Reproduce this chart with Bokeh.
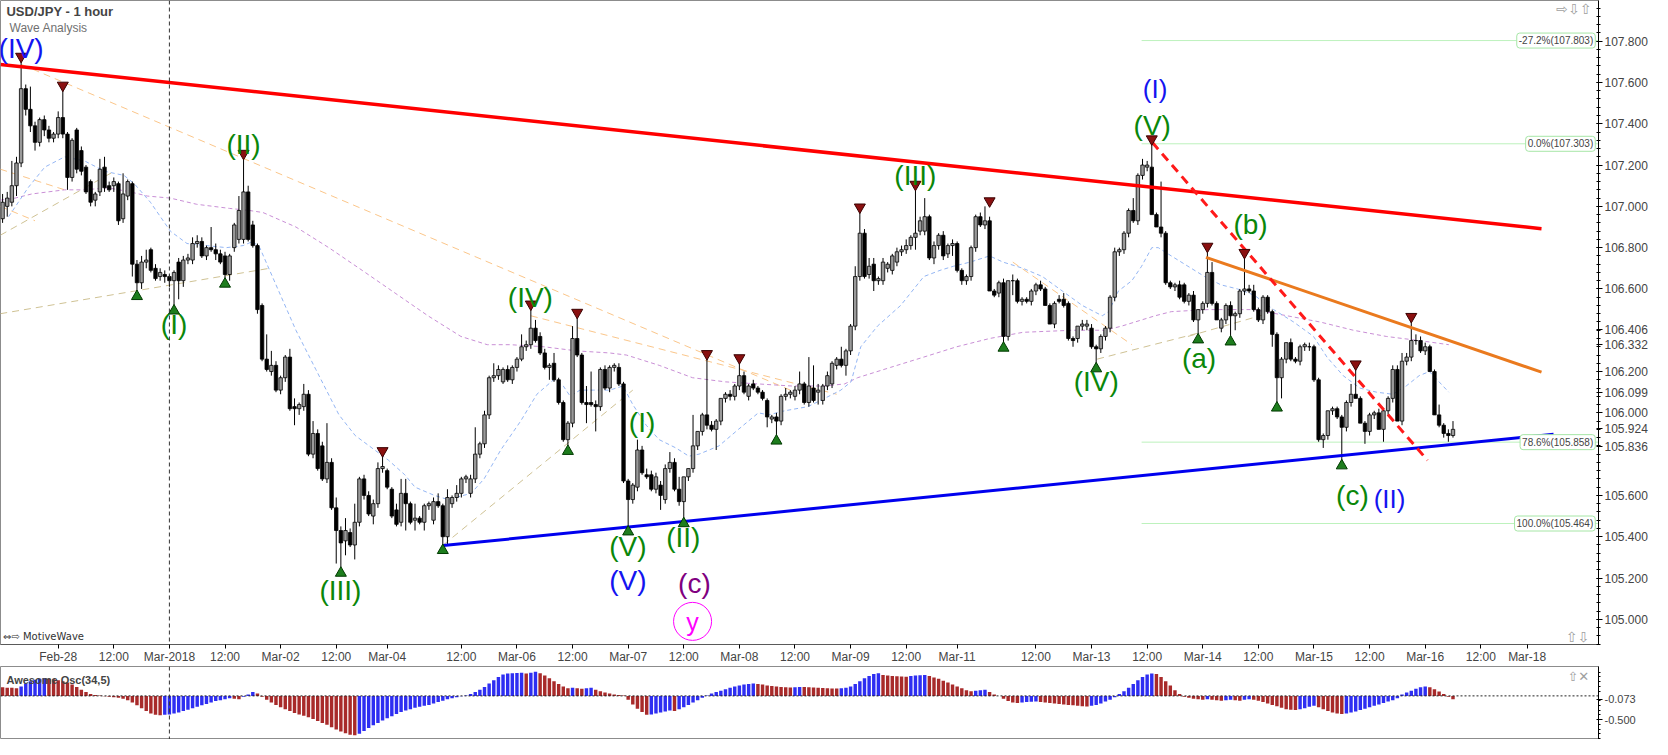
from bokeh.plotting import figure
from bokeh.models import (ColumnDataSource, Range1d, FixedTicker, Span, Label,
                          PrintfTickFormatter)
from bokeh.layouts import column
from bokeh.embed import file_html
from bokeh.resources import INLINE
from bokeh.core.properties import value

# ---------------- hourly candles (bar index 0 = Feb-27 12:00) ----------------
opens = [
106.94,107.00,107.02,107.10,107.21,107.57,107.47,107.39,107.31,107.42,
107.37,107.33,107.35,107.43,107.35,107.14,107.37,107.27,107.19,107.12,
107.03,107.07,107.19,107.10,107.10,107.11,106.94,107.05,107.11,106.72,
106.63,106.73,106.79,106.70,106.66,106.67,106.66,106.64,106.73,106.64,
106.74,106.74,106.82,106.83,106.76,106.80,106.79,106.77,106.76,106.67,
106.80,106.84,106.84,107.07,106.91,106.81,106.52,106.26,106.20,106.23,
106.11,106.17,106.27,106.03,106.02,106.03,106.09,105.80,105.90,105.84,
105.68,105.76,105.54,105.43,105.38,105.42,105.36,105.47,105.68,105.60,
105.50,105.56,105.73,105.72,105.63,105.53,105.47,105.61,105.56,105.48,
105.49,105.47,105.55,105.48,105.57,105.55,105.40,105.56,105.59,105.61,
105.68,105.61,105.68,105.80,105.85,105.99,106.17,106.18,106.15,106.21,
106.16,106.22,106.26,106.32,106.33,106.41,106.37,106.29,106.22,106.24,
106.16,106.05,105.87,105.95,106.36,106.28,106.05,106.05,106.04,106.03,
106.21,106.12,106.22,106.22,106.14,105.67,105.58,105.64,105.82,105.70,
105.70,105.63,105.65,105.58,105.73,105.76,105.63,105.57,105.69,105.73,
105.84,105.91,105.99,105.94,105.92,105.96,106.07,106.09,106.08,106.13,
106.18,106.08,106.14,106.12,106.10,106.06,105.97,105.98,105.96,106.08,
106.09,106.08,106.11,106.14,106.05,106.12,106.10,106.06,106.13,106.14,
106.23,106.26,106.23,106.30,106.42,106.66,106.87,106.67,106.72,106.64,
106.64,106.70,106.69,106.73,106.78,106.79,106.81,106.85,106.88,106.88,
106.95,106.75,106.81,106.86,106.77,106.81,106.82,106.69,106.64,106.66,
106.80,106.95,106.91,106.93,106.59,106.58,106.63,106.37,106.64,106.64,
106.54,106.55,106.54,106.59,106.62,106.60,106.52,106.43,106.55,106.55,
106.53,106.36,106.36,106.42,106.42,106.41,106.32,106.31,106.37,106.41,
106.56,106.78,106.79,106.87,106.98,106.93,107.15,107.19,107.19,106.96,
106.90,106.87,106.63,106.61,106.62,106.62,106.54,106.57,106.45,106.50,
106.53,106.68,106.53,106.41,106.45,106.52,106.47,106.48,106.59,106.60,
106.59,106.50,106.45,106.56,106.49,106.38,106.17,106.26,106.34,106.26,
106.25,106.32,106.32,106.32,106.16,105.87,105.89,106.01,106.02,105.98,
105.93,106.05,106.09,106.07,105.95,105.91,105.99,106.00,105.92,106.01,
106.07,106.21,105.96,106.25,106.27,106.35,106.35,106.30,106.32,106.20,
105.99,105.94,105.90,105.89]

highs = [
107.06,107.07,107.22,107.24,107.70,107.59,107.58,107.41,107.43,107.44,
107.39,107.36,107.46,107.56,107.36,107.33,107.38,107.29,107.20,107.13,
107.07,107.23,107.24,107.12,107.14,107.12,107.16,107.13,107.12,106.74,
106.76,106.79,106.80,106.72,106.70,106.69,106.67,106.69,106.75,106.76,
106.77,106.85,106.86,106.85,106.81,106.90,106.82,106.79,106.78,106.77,
106.92,107.05,107.23,107.10,106.93,106.82,106.53,106.38,106.30,106.25,
106.18,106.28,106.31,106.07,106.05,106.14,106.11,105.96,105.92,105.86,
105.95,105.78,105.59,105.45,105.49,105.44,105.56,105.69,105.70,105.62,
105.58,105.76,105.79,105.73,105.64,105.56,105.68,105.68,105.57,105.56,
105.50,105.56,105.57,105.59,105.61,105.56,105.63,105.60,105.65,105.69,
105.70,105.70,105.93,105.86,106.01,106.18,106.24,106.23,106.22,106.23,
106.23,106.27,106.38,106.35,106.50,106.45,106.39,106.31,106.24,106.29,
106.17,106.06,105.96,106.42,106.46,106.29,106.13,106.20,106.06,106.22,
106.23,106.23,106.24,106.24,106.15,105.68,105.66,105.87,105.84,105.73,
105.72,105.71,105.67,105.75,105.81,105.78,105.69,105.69,105.73,105.99,
105.91,106.00,106.26,105.96,105.97,106.07,106.10,106.11,106.14,106.24,
106.20,106.14,106.16,106.13,106.11,106.07,105.99,106.00,106.09,106.12,
106.11,106.13,106.20,106.15,106.27,106.23,106.14,106.14,106.20,106.25,
106.27,106.32,106.31,106.43,106.71,106.97,106.89,106.75,106.75,106.66,
106.75,106.73,106.77,106.80,106.81,106.84,106.86,107.08,106.95,107.04,
106.96,106.83,106.87,106.88,106.82,106.84,106.83,106.70,106.67,106.81,
106.96,106.97,107.00,106.95,106.60,106.64,106.65,106.64,106.67,106.65,
106.56,106.56,106.60,106.63,106.64,106.61,106.53,106.54,106.57,106.58,
106.54,106.37,106.42,106.45,106.45,106.43,106.33,106.38,106.42,106.57,
106.80,106.80,106.88,106.99,107.04,107.16,107.23,107.22,107.30,106.97,
107.12,106.88,106.64,106.63,106.64,106.63,106.58,106.59,106.50,106.54,
106.78,106.73,106.54,106.46,106.53,106.54,106.49,106.60,106.75,106.62,
106.62,106.51,106.57,106.57,106.50,106.39,106.27,106.34,106.36,106.27,
106.33,106.34,106.34,106.33,106.17,105.90,106.01,106.03,106.03,105.99,
106.06,106.14,106.21,106.08,105.96,106.00,106.01,106.02,106.02,106.08,
106.23,106.23,106.29,106.29,106.44,106.38,106.37,106.34,106.33,106.21,
106.04,105.95,105.92,105.96]

lows = [
106.92,106.95,107.00,107.05,107.19,107.44,107.36,107.27,107.29,107.34,
107.31,107.31,107.33,107.33,107.08,107.12,107.16,107.15,107.06,107.00,
107.00,107.05,107.07,107.07,107.07,106.91,106.92,107.03,106.66,106.59,
106.60,106.70,106.68,106.64,106.64,106.63,106.61,106.52,106.55,106.61,
106.72,106.72,106.80,106.75,106.74,106.78,106.74,106.72,106.65,106.64,
106.78,106.82,106.82,106.83,106.80,106.48,106.25,106.20,106.18,106.10,
106.09,106.15,106.01,105.94,105.99,106.01,105.79,105.78,105.72,105.67,
105.66,105.53,105.27,105.25,105.31,105.35,105.29,105.45,105.58,105.50,
105.46,105.54,105.71,105.63,105.49,105.45,105.45,105.43,105.46,105.43,
105.46,105.43,105.53,105.46,105.54,105.36,105.36,105.54,105.57,105.59,
105.66,105.59,105.66,105.78,105.83,105.97,106.15,106.16,106.14,106.15,
106.14,106.20,106.25,106.30,106.31,106.34,106.28,106.21,106.16,106.15,
106.04,105.86,105.84,105.93,106.27,106.04,105.95,106.03,105.91,106.01,
106.11,106.10,106.20,106.13,105.66,105.45,105.56,105.62,105.70,105.68,
105.62,105.61,105.53,105.56,105.71,105.62,105.55,105.49,105.67,105.71,
105.82,105.89,105.92,105.91,105.82,105.94,106.05,106.06,106.06,106.11,
106.09,106.06,106.11,106.09,106.06,105.93,105.95,105.89,105.94,106.06,
106.07,106.06,106.09,106.04,106.03,106.05,106.04,106.04,106.11,106.12,
106.21,106.22,106.18,106.28,106.40,106.64,106.65,106.65,106.59,106.62,
106.62,106.68,106.67,106.71,106.76,106.77,106.79,106.79,106.86,106.86,
106.74,106.72,106.79,106.74,106.75,106.76,106.68,106.62,106.62,106.64,
106.78,106.90,106.89,106.59,106.56,106.56,106.34,106.35,106.57,106.53,
106.52,106.53,106.52,106.57,106.59,106.52,106.43,106.41,106.53,106.51,
106.35,106.32,106.34,106.40,106.40,106.31,106.24,106.29,106.35,106.39,
106.54,106.76,106.77,106.85,106.92,106.91,107.13,107.17,106.96,106.90,
106.85,106.62,106.60,106.59,106.55,106.53,106.52,106.44,106.38,106.48,
106.51,106.52,106.45,106.39,106.43,106.37,106.40,106.46,106.57,106.58,
106.49,106.44,106.43,106.48,106.32,106.05,106.07,106.24,106.25,106.24,
106.23,106.30,106.30,106.15,105.86,105.83,105.87,105.99,105.97,105.77,
105.91,106.03,106.07,105.95,105.85,105.89,105.97,105.92,105.86,105.99,
106.05,105.96,105.94,106.23,106.25,106.33,106.29,106.28,106.20,105.99,
105.93,105.88,105.86,105.88]

closes = [
107.02,107.04,107.10,107.21,107.57,107.47,107.39,107.31,107.42,107.37,
107.33,107.35,107.43,107.35,107.14,107.32,107.18,107.17,107.07,107.02,
107.06,107.18,107.09,107.08,107.12,106.93,107.06,107.12,106.72,106.63,
106.73,106.74,106.69,106.65,106.68,106.66,106.64,106.68,106.64,106.74,
106.75,106.82,106.83,106.76,106.80,106.79,106.77,106.73,106.67,106.76,
106.91,106.98,107.07,106.84,106.81,106.50,106.26,106.21,106.23,106.11,
106.17,106.27,106.02,106.02,106.04,106.09,105.80,105.90,105.73,105.68,
105.76,105.54,105.43,105.37,105.43,105.36,105.47,105.68,105.60,105.51,
105.56,105.73,105.74,105.64,105.50,105.46,105.61,105.56,105.47,105.49,
105.47,105.55,105.56,105.57,105.55,105.40,105.59,105.59,105.61,105.68,
105.69,105.68,105.80,105.85,105.99,106.17,106.18,106.21,106.21,106.16,
106.22,106.26,106.32,106.33,106.41,106.35,106.29,106.22,106.23,106.16,
106.05,105.87,105.95,106.36,106.28,106.05,106.04,106.04,106.03,106.21,
106.12,106.22,106.23,106.14,105.67,105.58,105.65,105.82,105.71,105.69,
105.63,105.69,105.60,105.73,105.76,105.63,105.57,105.69,105.73,105.84,
105.91,105.99,105.94,105.92,105.96,106.07,106.09,106.08,106.13,106.18,
106.10,106.13,106.12,106.10,106.07,105.98,105.98,105.96,106.08,106.09,
106.10,106.11,106.14,106.05,106.13,106.06,106.11,106.13,106.18,106.24,
106.26,106.23,106.30,106.42,106.66,106.87,106.66,106.71,106.64,106.65,
106.73,106.72,106.76,106.78,106.79,106.81,106.85,106.87,106.93,106.95,
106.75,106.81,106.86,106.76,106.81,106.82,106.69,106.64,106.66,106.80,
106.95,106.91,106.93,106.59,106.57,106.63,106.37,106.64,106.64,106.54,
106.55,106.54,106.59,106.62,106.60,106.52,106.43,106.53,106.54,106.52,
106.36,106.35,106.42,106.43,106.43,106.32,106.31,106.37,106.41,106.56,
106.78,106.79,106.87,106.98,106.93,107.15,107.20,107.20,106.96,106.90,
106.87,106.63,106.61,106.62,106.56,106.54,106.57,106.45,106.50,106.53,
106.68,106.53,106.45,106.45,106.52,106.47,106.48,106.59,106.60,106.59,
106.50,106.45,106.56,106.49,106.38,106.17,106.26,106.34,106.26,106.25,
106.32,106.33,106.32,106.16,105.87,105.89,106.01,106.02,105.98,105.93,
106.05,106.09,106.07,105.95,105.91,105.99,106.00,105.92,106.01,106.07,
106.21,105.96,106.25,106.27,106.35,106.35,106.30,106.32,106.20,105.99,
105.94,105.90,105.89,105.92]

# Awesome Oscillator (34,5) per bar
ao = [
0.18,0.17,0.17,0.16,0.20,0.26,0.31,0.34,0.36,0.37,
0.36,0.35,0.33,0.31,0.28,0.24,0.19,0.13,0.08,0.04,
0.02,0.01,-0.01,-0.02,-0.03,-0.04,-0.06,-0.09,-0.14,-0.20,
-0.26,-0.32,-0.37,-0.40,-0.41,-0.40,-0.39,-0.37,-0.35,-0.32,
-0.29,-0.26,-0.23,-0.20,-0.17,-0.14,-0.11,-0.09,-0.07,-0.05,
-0.06,-0.07,-0.02,0.03,0.08,0.05,-0.02,-0.08,-0.14,-0.19,
-0.24,-0.28,-0.32,-0.36,-0.39,-0.42,-0.45,-0.49,-0.53,-0.57,
-0.61,-0.66,-0.71,-0.75,-0.79,-0.82,-0.83,-0.80,-0.74,-0.68,
-0.62,-0.57,-0.52,-0.47,-0.43,-0.38,-0.34,-0.31,-0.28,-0.25,
-0.23,-0.21,-0.19,-0.16,-0.13,-0.10,-0.07,-0.05,-0.03,-0.01,
0.01,0.04,0.08,0.13,0.19,0.26,0.33,0.40,0.45,0.47,
0.48,0.485,0.49,0.47,0.49,0.51,0.48,0.43,0.37,0.31,
0.25,0.20,0.16,0.17,0.16,0.15,0.16,0.17,0.13,0.10,
0.07,0.05,0.03,0.02,0.01,-0.08,-0.18,-0.27,-0.34,-0.40,
-0.39,-0.37,-0.35,-0.33,-0.31,-0.32,-0.28,-0.24,-0.19,-0.14,
-0.09,-0.04,0.01,0.05,0.08,0.11,0.14,0.17,0.20,0.22,
0.24,0.25,0.26,0.25,0.24,0.22,0.21,0.20,0.19,0.18,
0.175,0.18,0.19,0.185,0.18,0.175,0.17,0.165,0.16,0.158,
0.155,0.16,0.17,0.20,0.25,0.31,0.37,0.42,0.46,0.48,
0.44,0.43,0.42,0.415,0.41,0.405,0.42,0.43,0.435,0.44,
0.42,0.39,0.36,0.32,0.28,0.24,0.20,0.16,0.12,0.10,
0.11,0.12,0.13,0.08,0.03,0.00,-0.06,-0.11,-0.14,-0.15,
-0.14,-0.13,-0.125,-0.12,-0.13,-0.14,-0.15,-0.16,-0.17,-0.18,
-0.19,-0.20,-0.21,-0.22,-0.225,-0.21,-0.19,-0.16,-0.12,-0.08,
-0.03,0.04,0.10,0.17,0.25,0.33,0.40,0.45,0.47,0.46,
0.40,0.31,0.22,0.12,0.04,-0.02,-0.04,-0.06,-0.07,-0.08,
-0.07,-0.08,-0.09,-0.10,-0.09,-0.08,-0.09,-0.10,-0.08,-0.07,
-0.08,-0.10,-0.13,-0.16,-0.19,-0.22,-0.25,-0.28,-0.29,-0.30,
-0.28,-0.26,-0.23,-0.21,-0.24,-0.28,-0.32,-0.35,-0.37,-0.38,
-0.37,-0.35,-0.33,-0.30,-0.27,-0.24,-0.21,-0.18,-0.15,-0.12,
-0.09,-0.05,0.03,0.07,0.11,0.15,0.18,0.20,0.18,0.14,
0.09,0.04,-0.02,-0.073]

# moving averages (bar index, price)
ma_fast = [(1.3,106.95),(5.5,107.09),(9.1,107.19),(13.4,107.24),(17.7,107.22),(22,107.17),
    (26.2,107.15),(28.4,107.11),(31.9,107.02),(36.2,106.88),(39.8,106.82),(44,106.81),
    (48.3,106.80),(51.9,106.81),(54,106.83),(55.5,106.80),(59,106.62),(63.3,106.40),
    (67.6,106.21),(72.6,105.99),(76.1,105.89),(79.7,105.83),(83.3,105.77),(86.8,105.70),
    (89,105.64),(93.2,105.60),(96.1,105.58),(101.1,105.61),(103.9,105.68),(107.5,105.82),
    (111.8,105.96),(115.3,106.09),(118.9,106.16),(121.0,106.13),(122.5,106.08),(124.6,106.11),
    (127.5,106.11),(131.0,106.11),(133.9,106.13),(136,106.04),(138.9,105.94),(141.7,105.87),
    (145.3,105.83),(148.1,105.79),(150.3,105.80),(154.6,105.84),(158.8,105.92),(163.1,106.00),
    (165.3,105.99),(168.8,106.01),(173.8,106.03),(177.4,106.07),(180.9,106.11),(183.1,106.15),
    (185.2,106.32),(188.8,106.42),(193.8,106.52),(198.8,106.66),(202.3,106.69),(205.2,106.71),
    (208.8,106.73),(213.0,106.76),(215.9,106.73),(220.2,106.70),(224.4,106.66),(228.7,106.59),
    (233,106.52),(237.3,106.47),(238.7,106.49),(240.8,106.59),(243.7,106.64),(245.8,106.71),
    (248,106.80),(249.4,106.80),(252.2,106.76),(255.8,106.71),(259.4,106.66),(262.9,106.62),
    (266.5,106.60),(270.1,106.57),(274.3,106.50),(278.6,106.44),(282.9,106.37),(285.8,106.27),
    (289.3,106.18),(292.9,106.12),(296.5,106.10),(300,106.09),(302.9,106.13),(305.7,106.18),
    (307.9,106.20),(310,106.15),(312.1,106.10)]
ma_slow = [(-0.5,107.03),(2.7,107.04),(6.3,107.06),(9.8,107.07),(13.4,107.08),(17.7,107.08),
    (22.7,107.09),(27.6,107.07),(31.2,107.05),(36.2,107.04),(41.9,107.01),(49.0,106.99),
    (53.3,106.98),(56.2,106.97),(63.3,106.90),(70.4,106.80),(77.6,106.69),(84.7,106.58),
    (91.8,106.47),(98.9,106.37),(104.6,106.33),(109.6,106.33),(116.8,106.32),(123.9,106.30),
    (131,106.29),(134.6,106.28),(141.7,106.23),(148.9,106.17),(156,106.15),(163.1,106.14),
    (170.2,106.13),(177.4,106.13),(181.7,106.14),(184.5,106.17),(191.6,106.22),(198.8,106.27),
    (205.9,106.32),(213.0,106.36),(220.2,106.39),(230.9,106.40),(238,106.40),(241.5,106.42),
    (248.7,106.47),(252.2,106.49),(260.1,106.50),(270.1,106.50),(277.2,106.47),(284.3,106.44),
    (291.5,106.40),(298.6,106.37),(305.7,106.35),(312.1,106.33)]

# swing markers
tops_x = [4, 13, 52, 82, 114, 124, 152, 159, 185, 197, 213, 248, 260, 268, 292, 304]
tops_y = [107.70, 107.56, 107.23, 105.79, 106.50, 106.46, 106.26, 106.24, 106.97, 107.08,
          107.00, 107.30, 106.78, 106.75, 106.21, 106.44]
bots_x = [29, 37, 48, 73, 95, 122, 135, 147, 167, 216, 236, 258, 265, 275, 289]
bots_y = [106.59, 106.52, 106.65, 105.25, 105.36, 105.84, 105.45, 105.49, 105.89, 106.34,
          106.24, 106.38, 106.37, 106.05, 105.77]

# wave labels
wave_text = ["(IV)", "(II)", "(I)", "(III)", "(IV)", "(I)", "(V)", "(II)", "(V)", "(c)", "y",
             "(III)", "(IV)", "(V)", "(I)", "(a)", "(b)", "(c)", "(II)"]
wave_x = [4.0, 52.0, 37.0, 72.9, 113.9, 138.0, 134.95, 146.9, 134.95, 149.3, 148.9,
          196.97, 236.0, 248.1, 248.7, 258.2, 269.3, 291.3, 299.3]
wave_y = [107.766, 107.301, 106.428, 105.138, 106.560, 105.951, 105.352, 105.395, 105.186,
          105.172, 104.985, 107.150, 106.150, 107.390, 107.567, 106.265, 106.913, 105.599, 105.584]
wave_kind = ["B", "G", "G", "G", "G", "G", "G", "G", "B", "P", "M",
             "G", "G", "G", "B", "G", "G", "G", "B"]

# trend lines (x0, y0, x1, y1)
red_line = (-0.45, 107.687, 332.1, 106.892)
blue_line = (95.1, 105.357, 334.7, 105.896)
orange_line = (259.7, 106.753, 332.1, 106.197)
red_dash_line = (248.1, 107.31, 307.5, 105.77)
thin_orange = [(4.1, 107.687, 170.0, 106.11), (114.0, 106.47, 180.0, 106.09),
               (218.0, 106.73, 243.7, 106.33), (-0.5, 107.18, 13.4, 107.08),
               (-0.5, 107.00, 7.0, 106.93)]
thin_olive = [(-0.5, 106.48, 57.6, 106.70), (-0.5, 106.86, 24.1, 107.17),
              (95.1, 105.36, 136.0, 106.11), (236.2, 106.26, 258.7, 106.39),
              (255.8, 106.37, 272.9, 106.48)]

# Fibonacci levels
fib_levels = [107.803, 107.303, 105.858, 105.464]
fib_labels = ["-27.2%(107.803)", "0.0%(107.303)", "78.6%(105.858)", "100.0%(105.464)"]
fib_start = 245.8

# price values marked on the axis
axis_marks = [106.406, 106.332, 106.099, 105.924, 105.836]

# time axis
xtick_pos = [12, 24, 36, 48, 60, 72, 83, 99, 111, 123, 135, 147, 159, 171, 183, 195, 206,
             223, 235, 247, 259, 271, 283, 295, 307, 319, 329]
xtick_lbl = ["Feb-28", "12:00", "Mar-2018", "12:00", "Mar-02", "12:00", "Mar-04", "12:00",
             "Mar-06", "12:00", "Mar-07", "12:00", "Mar-08", "12:00", "Mar-09", "12:00",
             "Mar-11", "12:00", "Mar-13", "12:00", "Mar-14", "12:00", "Mar-15", "12:00",
             "Mar-16", "12:00", "Mar-18"]
month_start = 36
ytick_pos = [105.0, 105.2, 105.4, 105.6, 106.0, 106.2, 106.6, 106.8, 107.0,
             107.2, 107.4, 107.6, 107.8]

# ---------------------------------------------------------------------------
FONT = "Liberation Sans"
X0, X1 = -0.45, 344.4
Y0, Y1 = 104.878, 107.997
W = 1652
RB = 54
GREEN, BLUE, PURPLE, MAGENTA = "#0a870a", "#1414f0", "#800080", "#ff00ff"
kind_color = {"G": GREEN, "B": BLUE, "P": PURPLE, "M": MAGENTA}

n = len(closes)
idx = list(range(n))
src = ColumnDataSource(dict(
    x=idx, h=highs, l=lows,
    top=[max(o, c) for o, c in zip(opens, closes)],
    bot=[min(o, c) for o, c in zip(opens, closes)],
    fill=["#9a9a9a" if c >= o else "#000000" for o, c in zip(opens, closes)],
))

p = figure(width=W, height=666, x_range=Range1d(X0, X1), y_range=Range1d(Y0, Y1),
           y_axis_location="right", output_backend="svg", toolbar_location=None,
           min_border_left=0, min_border_right=RB, min_border_top=0, min_border_bottom=0)
p.grid.visible = False
p.outline_line_color = "#8c8c8c"
p.background_fill_color = "white"
p.border_fill_color = "white"

xa = p.xaxis[0]
xa.ticker = FixedTicker(ticks=xtick_pos, minor_ticks=[])
xa.major_label_overrides = {k: v for k, v in zip(xtick_pos, xtick_lbl)}
xa.major_tick_in = 0
xa.major_tick_out = 4
xa.minor_tick_out = 0
xa.axis_line_color = "#5a5a5a"
xa.major_label_text_font = FONT
xa.major_label_text_font_size = "12px"
xa.major_label_standoff = 1

ya = p.yaxis[0]
ya.ticker = FixedTicker(ticks=sorted(ytick_pos + axis_marks),
                        minor_ticks=[round(104.88 + 0.04 * i, 2) for i in range(79)])
ya.formatter = PrintfTickFormatter(format="%.3f")
ya.major_tick_in = 2
ya.major_tick_out = 4
ya.minor_tick_in = 2
ya.minor_tick_out = 2
ya.major_label_standoff = 2
ya.major_label_text_font = FONT
ya.major_label_text_font_size = "12px"

p.add_layout(Span(location=month_start, dimension="height", line_color="#333333",
                  line_dash="4 3", line_width=1))

# fib lines
for lv in fib_levels:
    p.segment(x0=[fib_start], y0=[lv], x1=[X1], y1=[lv], line_color="#bdf2bd", line_width=1)

# thin dashed helper lines
for (a, b, c, d) in thin_orange:
    p.line([a, c], [b, d], line_color="#fbc68a", line_width=1, line_dash="7 5")
for (a, b, c, d) in thin_olive:
    p.line([a, c], [b, d], line_color="#cfc294", line_width=1, line_dash="7 5")

# moving averages
p.line([t[0] for t in ma_slow], [t[1] for t in ma_slow], line_color="#c98fd6",
       line_width=1, line_dash="4 3")
p.line([t[0] for t in ma_fast], [t[1] for t in ma_fast], line_color="#94b6f4",
       line_width=1, line_dash="4 3")

# candles
p.segment(x0="x", y0="h", x1="x", y1="l", source=src, line_color="black", line_width=1)
p.vbar(x="x", width=0.74, top="top", bottom="bot", source=src, fill_color="fill",
       line_color="black", line_width=0.8)

# main trend lines
p.line([red_line[0], red_line[2]], [red_line[1], red_line[3]], line_color="#ff0000", line_width=3.5)
p.line([blue_line[0], blue_line[2]], [blue_line[1], blue_line[3]], line_color="#0000ee", line_width=3)
p.line([orange_line[0], orange_line[2]], [orange_line[1], orange_line[3]], line_color="#ea7a1e", line_width=3)
p.line([red_dash_line[0], red_dash_line[2]], [red_dash_line[1], red_dash_line[3]],
       line_color="#ff1a1a", line_width=3, line_dash="9 6")

# swing markers
MOFF = 0.026
p.scatter(x=tops_x, y=[v + MOFF for v in tops_y], marker="inverted_triangle", size=11,
          fill_color="#8a1010", line_color="#3a0000", line_width=1)
p.scatter(x=bots_x, y=[v - MOFF for v in bots_y], marker="triangle", size=11,
          fill_color="#1d7d1d", line_color="#003a00", line_width=1)

# wave labels
wsrc = ColumnDataSource(dict(
    x=wave_x, y=wave_y, t=wave_text,
    c=[kind_color[k] for k in wave_kind],
    fs=["26px" if (k == "B" and t in ("(II)", "(I)") and x > 200) else ("25px" if t == "y" else "28px")
        for k, t, x in zip(wave_kind, wave_text, wave_x)],
))
p.text(x="x", y="y", text="t", source=wsrc, text_color="c", text_font_size="fs",
       text_align="center", text_baseline="middle", text_font=value(FONT))
ci = wave_text.index("y")
p.scatter(x=[wave_x[ci]], y=[wave_y[ci] + 0.005], marker="circle", size=38,
          fill_color=None, line_color=MAGENTA, line_width=1)

# titles / texts
p.add_layout(Label(x=0.83, y=107.944, text="USD/JPY - 1 hour", text_font=FONT,
                   text_font_size="13px", text_font_style="bold", text_baseline="middle"))
p.add_layout(Label(x=1.5, y=107.862, text="Wave Analysis", text_font=FONT,
                   text_font_size="12px", text_color="#707070", text_baseline="middle"))
p.add_layout(Label(x=0.1, y=104.917, text="\u21d4\u21e8 MotiveWave", text_font="DejaVu Sans",
                   text_font_size="10px", text_color="#333333", text_baseline="middle"))
p.add_layout(Label(x=342.9, y=107.955, text="\u21e8\u21e9\u21e7", text_font="DejaVu Sans",
                   text_font_size="14px", text_color="#a0a0a0", text_baseline="middle",
                   text_align="right"))
p.add_layout(Label(x=342.4, y=104.915, text="\u21e7\u21e9", text_font="DejaVu Sans",
                   text_font_size="14px", text_color="#a0a0a0", text_baseline="middle",
                   text_align="right"))

# fib labels
for lv, tx in zip(fib_levels, fib_labels):
    p.add_layout(Label(x=X1 - 0.7, y=lv, text=tx, text_font=FONT, text_font_size="10px",
                       text_align="right", text_baseline="middle",
                       background_fill_color="white", border_line_color="#a6e6a6",
                       padding=2, border_radius=3))

# ---------------- oscillator ----------------
o = figure(width=W, height=73, x_range=p.x_range, y_range=Range1d(-0.92, 0.62),
           x_axis_location=None, y_axis_location="right", output_backend="svg",
           toolbar_location=None, min_border_left=0, min_border_right=RB,
           min_border_top=0, min_border_bottom=0)
o.grid.visible = False
o.outline_line_color = "#8c8c8c"
oa = o.yaxis[0]
oa.ticker = FixedTicker(ticks=[-0.5, ao[-1]],
                        minor_ticks=[-0.9, -0.8, -0.7, -0.6, -0.4, -0.3, -0.2, -0.1,
                                     0.1, 0.2, 0.3, 0.4, 0.5])
oa.formatter = PrintfTickFormatter(format="%.3f")
oa.major_tick_in = 2
oa.major_tick_out = 4
oa.minor_tick_in = 0
oa.minor_tick_out = 2
oa.major_label_standoff = 2
oa.major_label_text_font = FONT
oa.major_label_text_font_size = "11px"

ao_col = []
for i, v in enumerate(ao):
    if i == 0:
        ao_col.append("#a82a2a")
    else:
        ao_col.append("#2e2ef2" if v > ao[i - 1] else "#a82a2a")
asrc = ColumnDataSource(dict(x=list(range(len(ao))), top=ao, c=ao_col))
o.add_layout(Span(location=0, dimension="width", line_color="#222222", line_dash="2 2",
                  line_width=1))
o.vbar(x="x", width=0.74, top="top", bottom=0, source=asrc, fill_color="c", line_color=None)
o.add_layout(Span(location=month_start, dimension="height", line_color="#333333",
                  line_dash="4 3", line_width=1))
o.add_layout(Label(x=0.83, y=0.34, text="Awesome Osc(34,5)", text_font=FONT,
                   text_font_size="11px", text_font_style="bold", text_baseline="middle"))
o.add_layout(Label(x=342.4, y=0.40, text="\u21e7\u2715", text_font="DejaVu Sans",
                   text_font_size="13px", text_color="#a0a0a0", text_baseline="middle",
                   text_align="right"))

layout = column(p, o, spacing=0)
open("out.html", "w").write(file_html(layout, INLINE, "USD/JPY - 1 hour"))
